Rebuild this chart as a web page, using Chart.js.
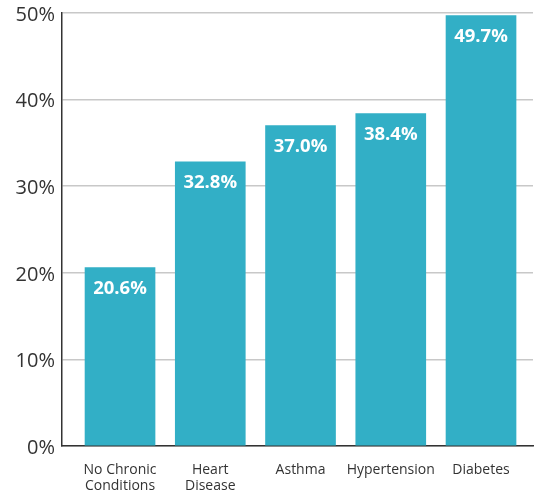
<!DOCTYPE html>
<html>
<head>
<meta charset="utf-8">
<script src="https://cdn.jsdelivr.net/npm/chart.js@4/dist/chart.umd.min.js"></script>
<style>
  html, body { margin: 0; padding: 0; background: #ffffff; }
  #wrap { width: 538px; height: 493px; }
</style>
</head>
<body>
<div id="wrap"><canvas id="c" width="538" height="493"></canvas></div>
<script>
// Share of people in each group (percent)
const categories = [["No Chronic", "Conditions"], ["Heart", "Disease"], ["Asthma"], ["Hypertension"], ["Diabetes"]];
const values = [20.6, 32.8, 37.0, 38.4, 49.7];
const yTicks = [0, 10, 20, 30, 40, 50];

const barColor = "#32afc6";
const axisColor = "#333333";

// White value labels just inside the top of each bar
const valueLabels = {
  id: "valueLabels",
  afterDatasetsDraw(chart) {
    const ctx = chart.ctx;
    const meta = chart.getDatasetMeta(0);
    ctx.save();
    ctx.fillStyle = "#ffffff";
    ctx.font = "bold 18.5px 'Open Sans', sans-serif";
    ctx.textAlign = "center";
    ctx.textBaseline = "middle";
    meta.data.forEach((bar, i) => {
      ctx.fillText(values[i].toFixed(1) + "%", bar.x, bar.y + 21);
    });
    ctx.restore();
  }
};

new Chart(document.getElementById("c"), {
  type: "bar",
  data: {
    datasets: [{
      data: values.map((v, i) => ({ x: i, y: v })),
      backgroundColor: barColor,
      borderWidth: 0,
      barThickness: 70
    }]
  },
  options: {
    responsive: false,
    animation: false,
    events: [],
    layout: { padding: { top: 13, right: 5, left: 0, bottom: 0 } },
    plugins: { legend: { display: false }, tooltip: { enabled: false } },
    scales: {
      x: {
        type: "linear",
        offset: false,
        bounds: "data",
        min: -0.643,
        max: 4.576,
        afterBuildTicks: s => { s.ticks = categories.map((_, i) => ({ value: i })); },
        afterFit: s => { s.height = 47; s.paddingLeft = 0; s.paddingRight = 0; },
        grid: { display: false, drawTicks: false, offset: false },
        border: { display: true, color: axisColor, width: 1.5 },
        ticks: {
          padding: 16,
          maxRotation: 0,
          autoSkip: false,
          color: "#333333",
          font: { family: "'Open Sans', sans-serif", size: 14, lineHeight: 1.15 },
          callback: (v) => categories[Math.round(v)]
        }
      },
      y: {
        min: 0,
        max: 50,
        afterBuildTicks: s => { s.ticks = yTicks.map(v => ({ value: v })); },
        afterFit: s => { s.width = 62; s.paddingTop = 0; s.paddingBottom = 0; },
        grid: { color: "#c8c8c8", lineWidth: 1.5, drawTicks: false },
        border: { display: true, color: axisColor, width: 1.5 },
        ticks: {
          padding: 7,
          labelOffset: 2,
          color: "#333333",
          font: { family: "'Open Sans', sans-serif", size: 20 },
          callback: v => v + "%"
        }
      }
    }
  },
  plugins: [valueLabels]
});
</script>
</body>
</html>
